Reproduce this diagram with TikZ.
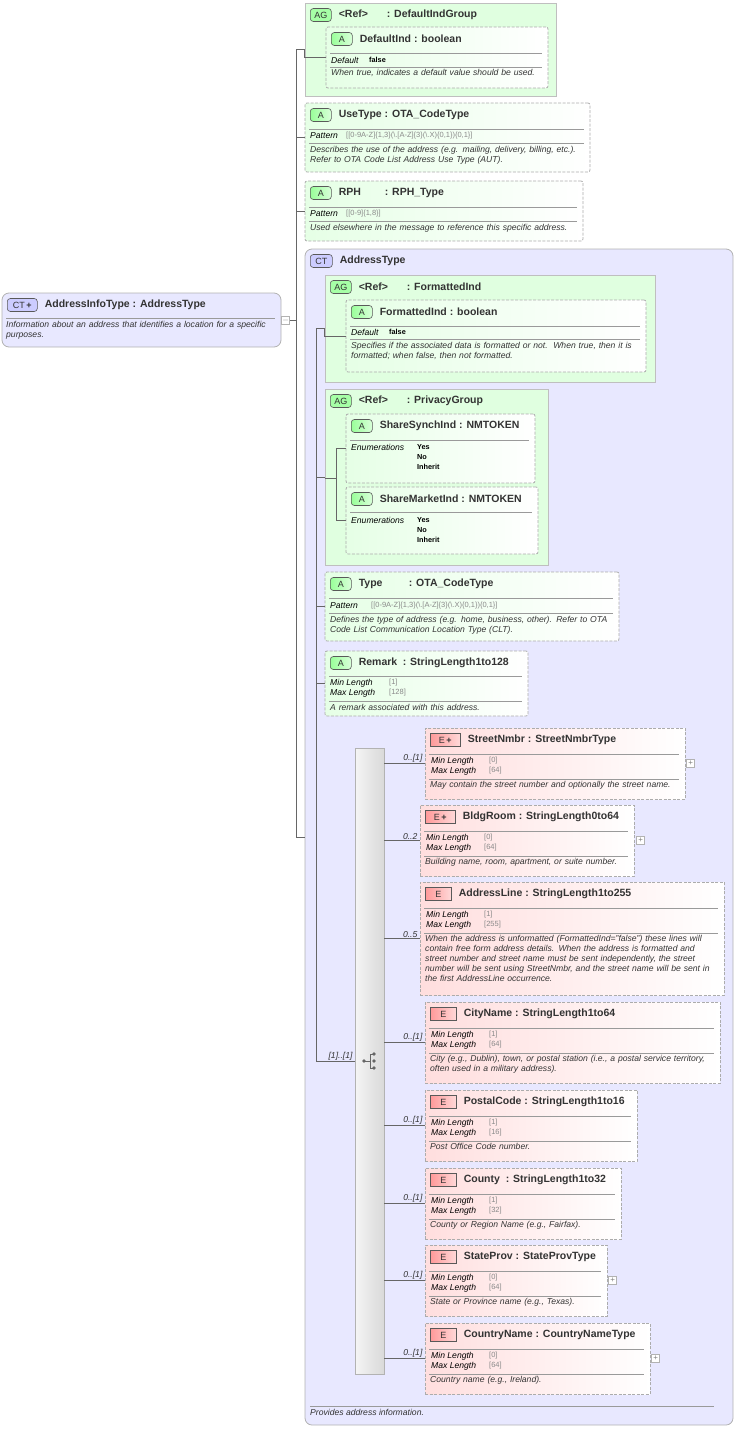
\documentclass[tikz,border=0pt]{standalone}
\usepackage{fontspec}
\setmainfont{Liberation Sans}
\usetikzlibrary{positioning}
\usetikzlibrary{shapes.misc}

\definecolor{ink}{HTML}{333333}
\definecolor{valgray}{HTML}{8A8A8A}
\definecolor{rule}{HTML}{9A9A9A}

\tikzset{
  conn/.style={draw=gray!80!black, line width=0.6pt},
  sep/.style={draw=rule, line width=0.6pt},
  abox/.style={draw=gray!65, dash pattern=on 3pt off 1.5pt, line width=0.8pt,
    rounded corners=2pt, left color=green!10, right color=white},
  ebox/.style={draw=gray!65, dash pattern=on 3pt off 1.5pt, line width=0.8pt,
    left color=red!13, right color=white},
  agbox/.style={chamfered rectangle, chamfered rectangle corners={north west,south west},
    chamfered rectangle xsep=9pt, draw=gray!50, line width=0.8pt, fill=green!12},
  ctbox/.style={draw=gray!60, line width=0.8pt, rounded corners=7pt, fill=blue!9},
  badge/.style={draw=gray!70!black, line width=0.6pt, font=\fontsize{9}{10}\selectfont,
    inner sep=0pt, minimum height=13pt, text=ink},
  bA/.style={badge, rounded corners=3pt, left color=green!40, right color=green!15, minimum width=21pt},
  bE/.style={badge, left color=red!40, right color=red!15, minimum width=26pt},
  bEp/.style={badge, left color=red!40, right color=red!15, minimum width=30pt},
  bAG/.style={badge, rounded corners=3pt, fill=green!35, minimum width=21pt},
  bCT/.style={badge, rounded corners=3pt, fill=blue!20, minimum width=22pt},
  bCTp/.style={badge, rounded corners=3pt, fill=blue!20, minimum width=30pt},
  ttl/.style={font=\fontsize{10.5}{12}\bfseries, text=ink, inner sep=0pt},
  fld/.style={font=\fontsize{8.6}{9}\itshape, text=black, inner sep=0pt, anchor=west},
  val/.style={font=\fontsize{7.5}{8}\selectfont, text=valgray, inner sep=0pt, anchor=west},
  dval/.style={font=\fontsize{7.3}{8}\bfseries, text=black, inner sep=0pt, anchor=west},
  dsc/.style={font=\fontsize{8.6}{10}\itshape, text=ink, inner sep=0pt, align=left, anchor=north west},
  mult/.style={font=\fontsize{8.6}{9}\itshape, text=ink, inner sep=1pt, anchor=south east},
  pm/.style={draw=gray!60, fill=white, minimum size=8pt, inner sep=0pt, line width=0.5pt,
    font=\fontsize{8}{8}\selectfont, text=gray}
}

% box: style, name, x, y, w, h
\newcommand{\bx}[6]{\node[#1, minimum width=#5pt, minimum height=#6pt, inner sep=0pt]
  (#2) at ({#3+#5/2},{#4+#6/2}) {};}
% header: name, x, y, w, badge style, badge text, title
\newcommand{\hdr}[7]{%
  \node[#5, anchor=west] (#1-b) at (#2+5,#3+12) {#6};
  \node[ttl, anchor=west, right=7pt of #1-b] (#1-t) {#7};}
\newcommand{\sepl}[3]{\draw[sep] (#1+4,#3) -- (#1+#2-6,#3);}
\newcommand{\tn}[2]{\makebox[#2pt][l]{#1}}
\def\plusstyle{bEp}
% element box: name, x, y, w, h, badge, title, min, max
\newcommand{\elem}[9]{%
  \bx{ebox}{#1}{#2}{#3}{#4}{#5}
  \def\bst{#6}%
  \ifx\bst\plusstyle\def\btx{E\,\textbf{+}}\else\def\btx{E}\fi
  \hdr{#1}{#2}{#3}{#4}{#6}{\btx}{#7}
  \sepl{#2}{#4}{#3+26}
  \node[fld] at (#2+6,#3+33) {Min Length};
  \node[val] at (#2+64,#3+33) {[#8]};
  \node[fld] at (#2+6,#3+43) {Max Length};
  \node[val] at (#2+64,#3+43) {[#9]};
  \sepl{#2}{#4}{#3+51}
  \def\ex{#2}\def\ey{#3}\def\ew{#4}}
% element description and connector: name, desc, multiplicity
\newcommand{\edesc}[3]{%
  \node[dsc, text width=\ew pt-8pt] at (\ex+5,\ey+53) {#2};
  \draw[conn] (seq.east |- #1.west) -- (#1.west);
  \node[mult] at ([xshift=-1pt]#1.west) {#3};}

\begin{document}
\begin{tikzpicture}[x=1pt,y=-1pt]
\useasboundingbox (0,0) rectangle (737,1430);

% root complex type
\bx{ctbox}{ainfo}{2}{293}{279}{54}
\hdr{ainfo}{2}{293}{279}{bCTp}{CT\,\textbf{+}}{AddressInfoType : AddressType}
\sepl{2}{279}{318}
\node[dsc, text width=272pt] at (6,321) {Information about an address that identifies a location for a specific\\purposes.};
\node[pm, right=0pt of ainfo] (ainfo-m) {$-$};

% attribute group DefaultIndGroup
\bx{agbox}{dg}{305}{3}{251}{93}
\hdr{dg}{305}{3}{251}{bAG}{AG}{\tn{<Ref>}{48}: DefaultIndGroup}
\bx{abox}{dgi}{326}{27}{222}{61}
\hdr{dgi}{326}{27}{222}{bA}{A}{DefaultInd : boolean}
\sepl{326}{222}{53}
\node[fld] at (331,60) {Default};
\node[dval] at (369,60) {false};
\sepl{326}{222}{67}
\node[dsc, text width=218pt] at (331,69) {When true, indicates a default value should be used.};

% UseType
\bx{abox}{ut}{305}{103}{285}{69}
\hdr{ut}{305}{103}{285}{bA}{A}{UseType : OTA\_CodeType}
\sepl{305}{285}{129}
\node[fld] at (310,136) {Pattern};
\node[val] at (346,136) {[[0-9A-Z]\{1,3\}(\textbackslash.[A-Z]\{3\}(\textbackslash.X)\{0,1\})\{0,1\}]};
\sepl{305}{285}{143}
\node[dsc, text width=282pt] at (310,146) {Describes the use of the address (e.g. mailing, delivery, billing, etc.).\\Refer to OTA Code List Address Use Type (AUT).};

% RPH
\bx{abox}{rph}{305}{181}{278}{60}
\hdr{rph}{305}{181}{278}{bA}{A}{\tn{RPH}{46}: RPH\_Type}
\sepl{305}{278}{207}
\node[fld] at (310,214) {Pattern};
\node[val] at (346,214) {[[0-9]\{1,8\}]};
\sepl{305}{278}{221}
\node[dsc, text width=275pt] at (310,224) {Used elsewhere in the message to reference this specific address.};

% complex type AddressType
\bx{ctbox}{at}{305}{249}{428}{1176}
\hdr{at}{305}{249}{428}{bCT}{CT}{AddressType}
\draw[sep] (310,1406) -- (714,1406);
\node[dsc] at (310,1409) {Provides address information.};

% FormattedInd group
\bx{agbox}{fg}{325}{275}{330}{107}
\hdr{fg}{325}{275}{330}{bAG}{AG}{\tn{<Ref>}{48}: FormattedInd}
\bx{abox}{fi}{346}{300}{300}{72}
\hdr{fi}{346}{300}{300}{bA}{A}{FormattedInd : boolean}
\sepl{346}{300}{326}
\node[fld] at (351,332) {Default};
\node[dval] at (389,332) {false};
\sepl{346}{300}{339}
\node[dsc, text width=296pt] at (351,342) {Specifies if the associated data is formatted or not.\ \ When true, then it is\\formatted; when false, then not formatted.};

% PrivacyGroup
\bx{agbox}{pg}{325}{389}{223}{176}
\hdr{pg}{325}{389}{223}{bAG}{AG}{\tn{<Ref>}{48}: PrivacyGroup}
\bx{abox}{ps}{346}{414}{189}{69}
\hdr{ps}{346}{414}{189}{bA}{A}{ShareSynchInd : NMTOKEN}
\sepl{346}{189}{440}
\node[fld] at (351,447) {Enumerations};
\node[dval] at (417,447) {Yes};
\node[dval] at (417,457) {No};
\node[dval] at (417,467) {Inherit};
\bx{abox}{pm}{346}{487}{192}{67}
\hdr{pm}{346}{487}{192}{bA}{A}{ShareMarketInd : NMTOKEN}
\sepl{346}{192}{512}
\node[fld] at (351,520) {Enumerations};
\node[dval] at (417,520) {Yes};
\node[dval] at (417,530) {No};
\node[dval] at (417,540) {Inherit};

% Type
\bx{abox}{ty}{325}{572}{294}{69}
\hdr{ty}{325}{572}{294}{bA}{A}{\tn{Type}{50}: OTA\_CodeType}
\sepl{325}{294}{598}
\node[fld] at (330,606) {Pattern};
\node[val] at (371,606) {[[0-9A-Z]\{1,3\}(\textbackslash.[A-Z]\{3\}(\textbackslash.X)\{0,1\})\{0,1\}]};
\sepl{325}{294}{613}
\node[dsc, text width=290pt] at (330,616) {Defines the type of address (e.g. home, business, other). Refer to OTA\\Code List Communication Location Type (CLT).};

% Remark
\bx{abox}{rm}{325}{651}{203}{65}
\hdr{rm}{325}{651}{203}{bA}{A}{\tn{Remark}{44}: StringLength1to128}
\sepl{325}{203}{676}
\node[fld] at (330,683) {Min Length};
\node[val] at (389,683) {[1]};
\node[fld] at (330,693) {Max Length};
\node[val] at (389,693) {[128]};
\sepl{325}{203}{701}
\node[dsc, text width=198pt] at (330,704) {A remark associated with this address.};

% sequence compositor
\bx{draw=gray!60, line width=0.6pt, left color=gray!8, right color=gray!30}{seq}{355}{748}{29}{626}
\fill[gray!80!black] (364,1061) circle (1.8pt) (374,1054) circle (1.8pt)
  (374,1061) circle (1.8pt) (374,1068) circle (1.8pt);
\draw[gray!80!black, line width=0.8pt] (364,1061) -- (370,1061) (370,1054) -- (370,1068)
  (370,1054) -- (374,1054) (370,1068) -- (374,1068);

% elements
\elem{sn}{425}{728}{260}{71}{bEp}{StreetNmbr : StreetNmbrType}{0}{64}
\edesc{sn}{May contain the street number and optionally the street name.}{0..[1]}
\node[pm, right=1pt of sn] (sn-p) {+};
\elem{br}{420}{805}{214}{71}{bEp}{BldgRoom : StringLength0to64}{0}{64}
\edesc{br}{Building name, room, apartment, or suite number.}{0..2}
\node[pm, right=2pt of br] (br-p) {+};
\elem{al}{420}{882}{304}{113}{bE}{AddressLine : StringLength1to255}{1}{255}
\edesc{al}{When the address is unformatted (FormattedInd="false") these lines will\\contain free form address details. When the address is formatted and\\street number and street name must be sent independently, the street\\number will be sent using StreetNmbr, and the street name will be sent in\\the first AddressLine occurrence.}{0..5}
\elem{cn}{425}{1002}{295}{81}{bE}{CityName : StringLength1to64}{1}{64}
\edesc{cn}{City (e.g., Dublin), town, or postal station (i.e., a postal service territory,\\often used in a military address).}{0..[1]}
\elem{pc}{425}{1090}{212}{71}{bE}{PostalCode : StringLength1to16}{1}{16}
\edesc{pc}{Post Office Code number.}{0..[1]}
\elem{co}{425}{1168}{196}{71}{bE}{\tn{County}{42}: StringLength1to32}{1}{32}
\edesc{co}{County or Region Name (e.g., Fairfax).}{0..[1]}
\elem{sp}{425}{1245}{182}{71}{bE}{StateProv : StateProvType}{0}{64}
\edesc{sp}{State or Province name (e.g., Texas).}{0..[1]}
\node[pm, right=1pt of sp] (sp-p) {+};
\elem{cy}{425}{1323}{225}{71}{bE}{CountryName : CountryNameType}{0}{64}
\edesc{cy}{Country name (e.g., Ireland).}{0..[1]}
\node[pm, right=1pt of cy] (cy-p) {+};

% connectors
\coordinate (j0) at (296,320);
\coordinate (j1) at (316,1061);
\draw[conn] (ainfo-m.east) -- (j0);
\draw[conn] (j0 |- dg.west) -- (j0 |- at.west);
\foreach \n in {dg,ut,rph,at} \draw[conn] (j0 |- \n.west) -- (\n.west);
\draw[conn] (dg.west) |- (dgi.west);
\draw[conn] (j1 |- at.west) -- (j1 |- fg.west);
\foreach \n in {fg,pg,ty,rm} \draw[conn] (j1 |- \n.west) -- (\n.west);
\draw[conn] (at.west -| j1) -- (j1) -- (seq.west |- j1);
\node[mult] at ([xshift=-1pt]seq.west |- j1) {[1]..[1]};
\draw[conn] (fg.west) |- (fi.west);
\coordinate (j2) at (336,478);
\draw[conn] (pg.west |- j2) -- (j2);
\draw[conn] (j2 |- ps.west) -- (j2 |- pm.west);
\foreach \n in {ps,pm} \draw[conn] (j2 |- \n.west) -- (\n.west);
\end{tikzpicture}
\end{document}
